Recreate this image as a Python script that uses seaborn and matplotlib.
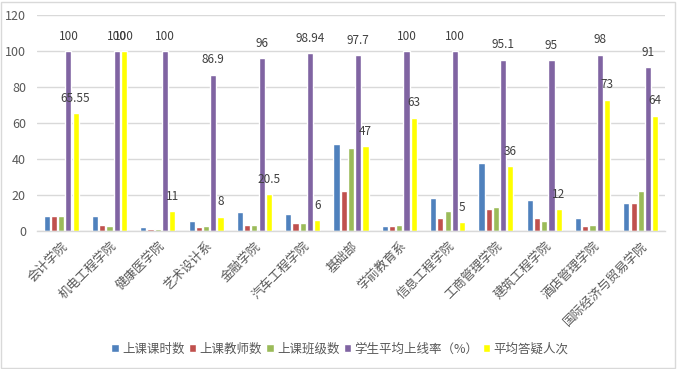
import matplotlib
matplotlib.use("Agg")
import matplotlib.pyplot as plt
import seaborn as sns
import pandas as pd
from matplotlib.patches import Rectangle

categories = ["会计学院", "机电工程学院", "健康医学院", "艺术设计系", "金融学院", "汽车工程学院",
              "基础部", "学前教育系", "信息工程学院", "工商管理学院", "建筑工程学院",
              "酒店管理学院", "国际经济与贸易学院"]
series_names = ["上课课时数", "上课教师数", "上课班级数", "学生平均上线率（%）", "平均答疑人次"]
class_hours = [8.5, 8.5, 2, 5.5, 10.5, 9.5, 48.5, 3, 18.5, 38, 17, 7, 15.5]
teachers = [8.5, 3.5, 1, 2, 3.5, 4.5, 22, 3, 7, 12, 7, 3, 15.5]
classes = [8.5, 3, 1, 3, 3.5, 4.5, 46, 3.5, 11, 13.5, 5.5, 3.5, 22]
online_rate = [100, 100, 100, 86.9, 96, 98.94, 97.7, 100, 100, 95.1, 95, 98, 91]
qa_count = [65.55, 100, 11, 8, 20.5, 6, 47, 63, 5, 36, 12, 73, 64]
label_texts_rate = ["100", "100", "100", "86.9", "96", "98.94", "97.7", "100", "100", "95.1", "95", "98", "91"]
label_texts_qa = ["65.55", "100", "11", "8", "20.5", "6", "47", "63", "5", "36", "12", "73", "64"]
colors = ["#4F81BD", "#C0504D", "#9BBB59", "#8064A2", "#FFFF00"]

all_values = [class_hours, teachers, classes, online_rate, qa_count]
rows = []
for name, vals in zip(series_names, all_values):
    for c, v in zip(categories, vals):
        rows.append({"category": c, "series": name, "value": v})
df = pd.DataFrame(rows)

sns.set_theme(style="white")
plt.rcParams["font.family"] = ["Noto Sans CJK SC", "DejaVu Sans"]
plt.rcParams["axes.unicode_minus"] = False

fig = plt.figure(figsize=(6.8, 3.69), dpi=100)
ax = fig.add_axes([37 / 680, (369 - 231) / 369, (665 - 37) / 680, (231 - 15) / 369])

sns.barplot(data=df, x="category", y="value", hue="series", order=categories,
            hue_order=series_names, palette=colors, width=0.75, gap=0.15,
            saturation=1, ax=ax, legend=True, errorbar=None)

ax.set_ylim(0, 120)
ax.set_yticks(range(0, 121, 20))
ax.set_xlim(-0.5, len(categories) - 0.5)
ax.yaxis.grid(True, color="#D9D9D9", linewidth=1)
ax.set_axisbelow(True)
for s in ["left", "right", "top"]:
    ax.spines[s].set_visible(False)
ax.spines["bottom"].set_color("#D9D9D9")
ax.spines["bottom"].set_linewidth(1)
ax.set_xlabel("")
ax.set_ylabel("")
ax.tick_params(axis="both", length=0, colors="#595959")
ax.tick_params(axis="y", labelsize=9, pad=8)
ax.set_xticks(range(len(categories)))
ax.set_xticklabels(categories, rotation=45, ha="right", rotation_mode="anchor",
                   fontsize=9, color="#595959")
ax.tick_params(axis="x", pad=6)

ax.bar_label(ax.containers[3], labels=label_texts_rate, padding=6, fontsize=8.5, color="#404040")
ax.bar_label(ax.containers[4], labels=label_texts_qa, padding=6, fontsize=8.5, color="#404040")

handles, labels = ax.get_legend_handles_labels()
ax.get_legend().remove()
fig.legend(handles, labels, loc="center", bbox_to_anchor=(0.5, 0.054), ncol=5, frameon=False,
           fontsize=9, handlelength=0.6, handleheight=0.6, handletextpad=0.25,
           columnspacing=0.35, labelcolor="#595959")

fig.patches.append(Rectangle((1 / 680, 1 / 369), 674 / 680, 366 / 369, transform=fig.transFigure,
                             fill=False, edgecolor="#D9D9D9", linewidth=1))

fig.savefig("out.png", dpi=100)
